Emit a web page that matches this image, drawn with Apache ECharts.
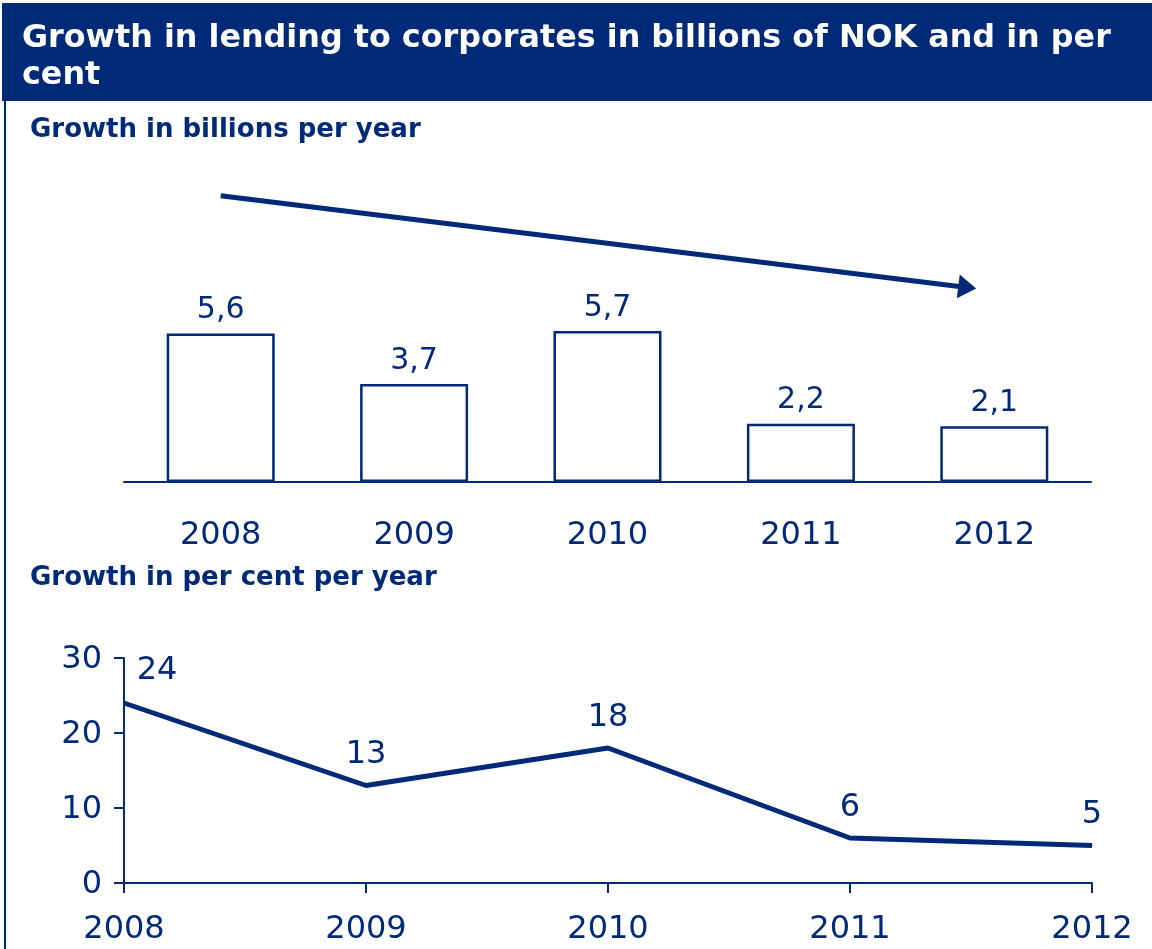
<!DOCTYPE html>
<html>
<head>
<meta charset="utf-8">
<script src="https://cdn.jsdelivr.net/npm/echarts@6/dist/echarts.min.js"></script>
<style>
  html, body { margin: 0; padding: 0; background: #ffffff; }
  #chart { width: 1152px; height: 949px; }
</style>
</head>
<body>
<div id="chart"></div>
<script>
// Lending growth to corporates, 2008–2012
const years = ['2008', '2009', '2010', '2011', '2012'];
const growthBillions = [5.6, 3.7, 5.7, 2.2, 2.1];
const growthPercent = [24, 13, 18, 6, 5];
const percentTicks = [0, 10, 20, 30];
// trend arrow across the bar panel: [position along the years (0 = 2008), billions]
const trendStart = [0, 10.8];
const trendEnd = [3.86, 7.34];

const NAVY = '#002a78';
const FONT = 'DejaVu Sans, Verdana, sans-serif';

const chart = echarts.init(document.getElementById('chart'), null, { renderer: 'canvas' });

// first point's label sits to the right of the y axis
const percentData = growthPercent.map((v, i) => (
  i === 0 ? { value: v, label: { offset: [33, -2] } } : v
));

chart.setOption({
  backgroundColor: '#ffffff',
  animation: false,
  graphic: [
    { type: 'rect', z: 0, shape: { x: 2, y: 3, width: 1150, height: 98 }, style: { fill: NAVY } },
    { type: 'line', z: 0, shape: { x1: 5, y1: 101, x2: 5, y2: 949 }, style: { stroke: NAVY, lineWidth: 2 } }
  ],
  title: [
    {
      text: 'Growth in lending to corporates in billions of NOK and in per\ncent',
      left: 22, top: 20, padding: 0,
      textStyle: { color: '#ffffff', fontFamily: FONT, fontWeight: 'bold', fontSize: 31.8, lineHeight: 37 }
    },
    {
      text: 'Growth in billions per year',
      left: 30, top: 117, padding: 0,
      textStyle: { color: NAVY, fontFamily: FONT, fontWeight: 'bold', fontSize: 26 }
    },
    {
      text: 'Growth in per cent per year',
      left: 30, top: 565, padding: 0,
      textStyle: { color: NAVY, fontFamily: FONT, fontWeight: 'bold', fontSize: 26 }
    }
  ],
  grid: [
    { left: 124, right: 61, top: 164, bottom: 467 },
    { left: 124, right: 60, top: 658, bottom: 66 }
  ],
  xAxis: [
    {
      type: 'category', gridIndex: 0, data: years,
      axisLine: { lineStyle: { color: NAVY, width: 2 } },
      axisTick: { show: false },
      axisLabel: { color: NAVY, fontFamily: FONT, fontSize: 32, margin: 38 }
    },
    {
      type: 'category', gridIndex: 1, data: years, boundaryGap: false,
      axisLine: { lineStyle: { color: NAVY, width: 2 } },
      axisTick: { show: true, inside: false, length: 10, lineStyle: { color: NAVY, width: 2 } },
      axisLabel: { color: NAVY, fontFamily: FONT, fontSize: 32, margin: 31 }
    },
    {
      // continuous twin of the bar panel's year axis, used for the trend arrow
      type: 'value', gridIndex: 0, min: -0.5, max: years.length - 0.5, show: false,
      splitLine: { show: false }
    }
  ],
  yAxis: [
    {
      type: 'value', gridIndex: 0, min: 0, max: 12, show: false,
      splitLine: { show: false }
    },
    {
      type: 'value', gridIndex: 1, min: percentTicks[0], max: percentTicks[percentTicks.length - 1], interval: 10,
      axisLine: { show: true, lineStyle: { color: NAVY, width: 2 } },
      axisTick: { show: true, length: 10, lineStyle: { color: NAVY, width: 2 } },
      axisLabel: {
        margin: 22,
        formatter: v => '{t|' + v + '}',
        rich: { t: { color: NAVY, fontFamily: FONT, fontSize: 32, padding: [4, 0, 0, 0] } }
      },
      splitLine: { show: false }
    }
  ],
  series: [
    {
      type: 'bar', xAxisIndex: 0, yAxisIndex: 0,
      data: growthBillions,
      barWidth: 108,
      itemStyle: { color: '#ffffff', borderColor: NAVY, borderWidth: 2.5 },
      label: {
        show: true, position: 'top', distance: 8,
        color: NAVY, fontFamily: FONT, fontSize: 30,
        formatter: p => String(p.value).replace('.', ',')
      }
    },
    {
      // trend arrow
      type: 'line', xAxisIndex: 2, yAxisIndex: 0,
      data: [trendStart, trendEnd],
      silent: true,
      showSymbol: false,
      lineStyle: { opacity: 0 },
      markLine: {
        silent: true,
        symbol: ['none', 'triangle'],
        symbolSize: [24, 18],
        itemStyle: { color: NAVY },
        lineStyle: { color: NAVY, width: 5, type: 'solid' },
        label: { show: false },
        data: [[{ coord: trendStart }, { coord: trendEnd }]]
      }
    },
    {
      type: 'line', xAxisIndex: 1, yAxisIndex: 1,
      data: percentData,
      symbol: 'circle',
      symbolSize: 1,
      showSymbol: true,
      showAllSymbol: true,
      itemStyle: { color: NAVY },
      lineStyle: { color: NAVY, width: 5 },
      label: {
        show: true, position: 'top', distance: 14,
        color: NAVY, fontFamily: FONT, fontSize: 32
      }
    }
  ]
});
</script>
</body>
</html>
